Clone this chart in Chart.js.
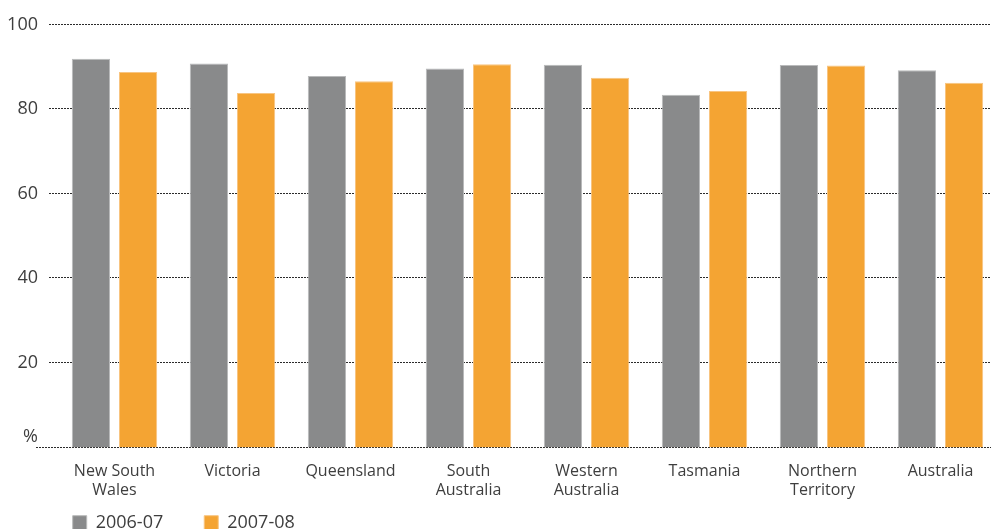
<!DOCTYPE html>
<html>
<head>
<meta charset="utf-8">
<title>Share by jurisdiction, 2006-07 and 2007-08</title>
<script src="https://cdn.jsdelivr.net/npm/chart.js@4/dist/chart.umd.min.js"></script>
<style>
  html, body { margin: 0; padding: 0; background: #ffffff; overflow: hidden; }
  #wrap { width: 991px; height: 529px; overflow: hidden; position: relative; }
  #chart { position: absolute; left: 0; top: 0; }
</style>
</head>
<body>
<div id="wrap"><canvas id="chart" width="1000" height="572"></canvas></div>
<script>
// Jurisdictions along the x axis (multi-line where the label wraps)
const categories = [
  ['New South', 'Wales'],
  'Victoria',
  'Queensland',
  ['South', 'Australia'],
  ['Western', 'Australia'],
  'Tasmania',
  ['Northern', 'Territory'],
  'Australia'
];

// Percentages per year
const values2006 = [91.9, 90.8, 87.8, 89.6, 90.5, 83.4, 90.4, 89.2];
const values2007 = [88.8, 83.8, 86.6, 90.6, 87.4, 84.3, 90.3, 86.2];

const seriesNames = ['2006-07', '2007-08'];

// Y axis ticks; the zero line carries the unit symbol instead of a number
const yTicks = [0, 20, 40, 60, 80, 100];
const unitLabel = '%';

const FONT = '"Open Sans", "Noto Sans", "DejaVu Sans", sans-serif';
const TEXT = '#3e3e3e';

// Dotted horizontal rules behind the bars, running to the right edge
const dottedGrid = {
  id: 'dottedGrid',
  beforeDatasetsDraw(chart) {
    const { ctx, chartArea, scales } = chart;
    const y = scales.y;
    ctx.save();
    ctx.strokeStyle = '#2b2b2b';
    ctx.lineWidth = 1;
    ctx.setLineDash([2, 1]);
    yTicks.forEach(v => {
      const py = Math.round(y.getPixelForValue(v)) - 0.5;
      const x0 = v === 0 ? chartArea.left - 19.5 : chartArea.left - 6.5;
      ctx.beginPath();
      ctx.moveTo(x0, py);
      ctx.lineTo(chart.width, py);
      ctx.stroke();
    });
    ctx.restore();
  }
};

// Place the legend just under the category labels, indented like the plot
const legendPlacement = {
  id: 'legendPlacement',
  afterLayout(chart) {
    const lg = chart.legend;
    if (!lg) return;
    const w = lg.width, h = lg.height;
    lg.left = 31.7;
    lg.right = lg.left + w;
    lg.top = chart.chartArea.bottom + 25.2;
    lg.bottom = lg.top + h;
  }
};

new Chart(document.getElementById('chart'), {
  type: 'bar',
  data: {
    labels: categories,
    datasets: [
      {
        label: seriesNames[0],
        data: values2006,
        backgroundColor: '#898a8b',
        borderColor: '#b9babb',
        borderWidth: 1,
        borderSkipped: 'start'
      },
      {
        label: seriesNames[1],
        data: values2007,
        backgroundColor: '#f4a433',
        borderColor: '#f8c582',
        borderWidth: 1,
        borderSkipped: 'start'
      }
    ]
  },
  options: {
    responsive: false,
    devicePixelRatio: 1,
    animation: false,
    layout: { padding: { left: 0, top: 24.5, right: 0.5, bottom: 0 } },
    datasets: {
      bar: { categoryPercentage: 0.8, barPercentage: 0.81 }
    },
    scales: {
      x: {
        grid: { display: false, drawTicks: false },
        border: { display: false },
        ticks: {
          padding: 14,
          maxRotation: 0,
          autoSkip: false,
          color: TEXT,
          font: { family: FONT, size: 16, lineHeight: 1.2 }
        },
        afterFit(scale) { scale.height = 55.5; }
      },
      y: {
        min: 0,
        max: 100,
        afterBuildTicks(scale) { scale.ticks = yTicks.map(v => ({ value: v })); },
        grid: { display: false, drawTicks: false },
        border: { display: false },
        ticks: {
          padding: 17.5,
          color: TEXT,
          font: { family: FONT, size: 18, lineHeight: 1.2 },
          callback: v => (v === 0 ? [unitLabel, ''] : String(v))
        },
        afterFit(scale) {
          scale.width = 55.5;
          scale.paddingTop = 0;
          scale.paddingBottom = 0;
        }
      }
    },
    plugins: {
      legend: {
        display: true,
        position: 'bottom',
        align: 'start',
        labels: {
          boxWidth: 14,
          boxHeight: 14,
          padding: 41,
          color: TEXT,
          font: { family: FONT, size: 18 }
        }
      },
      tooltip: { enabled: false },
      title: { display: false }
    }
  },
  plugins: [dottedGrid, legendPlacement]
});
</script>
</body>
</html>
